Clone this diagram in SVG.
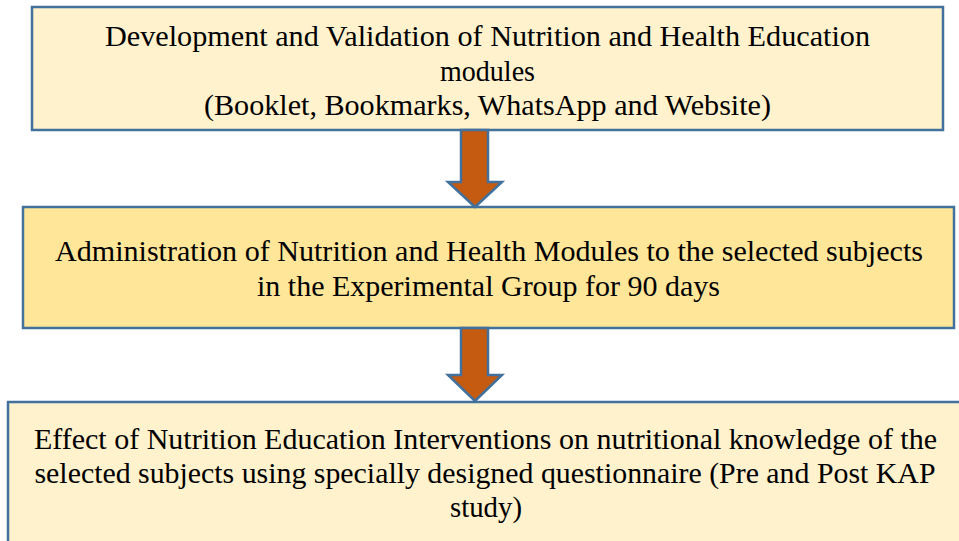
<svg xmlns="http://www.w3.org/2000/svg" width="959" height="541" viewBox="0 0 959 541">
  <style>
    .box { stroke: #41719C; stroke-width: 2.5; }
    .light { fill: #FFF2CC; }
    .gold { fill: #FFE699; }
    .label { font-family: 'Liberation Serif', 'Times New Roman', 'DejaVu Serif', serif; font-size: 30px; fill: #000; text-anchor: middle; }
    .arrow { fill: #C55A11; stroke: #41719C; stroke-width: 2.5; stroke-linejoin: miter; }
  </style>
  <rect width="959" height="541" fill="#FFFFFF"/>

  <g id="node-development">
    <rect class="box light" x="32" y="7" width="911" height="123"/>
    <text class="label" x="487.5" y="46" textLength="765" lengthAdjust="spacingAndGlyphs">Development and Validation of Nutrition and Health Education</text>
    <text class="label" x="487.5" y="80.5" textLength="95" lengthAdjust="spacingAndGlyphs">modules</text>
    <text class="label" x="487.5" y="115" textLength="567" lengthAdjust="spacingAndGlyphs">(Booklet, Bookmarks, WhatsApp and Website)</text>
  </g>

  <g id="node-administration">
    <rect class="box gold" x="23" y="207" width="931" height="121"/>
    <text class="label" x="489" y="261" textLength="868" lengthAdjust="spacingAndGlyphs">Administration of Nutrition and Health Modules to the selected subjects</text>
    <text class="label" x="488.5" y="296" textLength="463" lengthAdjust="spacingAndGlyphs">in the Experimental Group for 90 days</text>
  </g>

  <g id="node-effect">
    <rect class="box light" x="8" y="402" width="956" height="150"/>
    <text class="label" x="485.5" y="449" textLength="903" lengthAdjust="spacingAndGlyphs">Effect of Nutrition Education Interventions on nutritional knowledge of the</text>
    <text class="label" x="485" y="483" textLength="901" lengthAdjust="spacingAndGlyphs">selected subjects using specially designed questionnaire (Pre and Post KAP</text>
    <text class="label" x="486" y="517" textLength="72" lengthAdjust="spacingAndGlyphs">study)</text>
  </g>

  <g id="connectors">
    <path class="arrow" d="M461,130 H488 V182 H502 L475,207 L448,182 H461 Z"/>
    <path class="arrow" d="M461,328 H488 V375 H502 L475,401 L448,375 H461 Z"/>
  </g>
</svg>
